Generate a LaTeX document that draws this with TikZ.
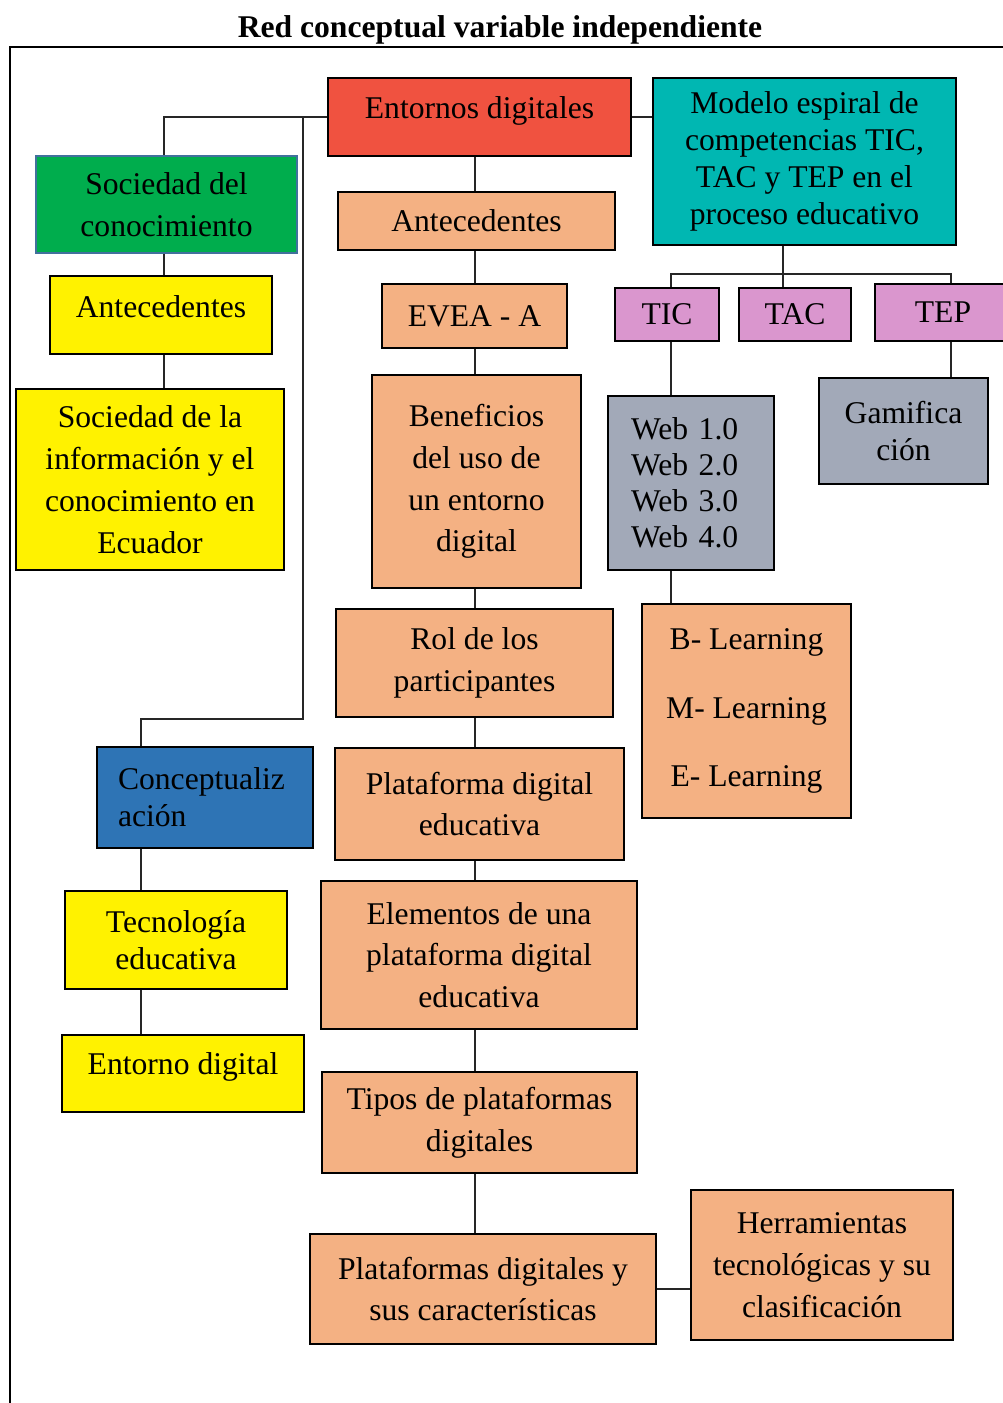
\documentclass[tikz,border=0pt]{standalone}
\usepackage{fontspec}
\setmainfont{Liberation Serif}
\usepackage{xcolor}
\usetikzlibrary{calc}

\definecolor{redbox}{RGB}{240,82,64}
\definecolor{tealbox}{RGB}{0,183,178}
\definecolor{greenbox}{RGB}{0,173,77}
\definecolor{greenborder}{RGB}{65,113,156}
\definecolor{peach}{RGB}{244,177,131}
\definecolor{violetbox}{RGB}{218,150,206}
\definecolor{slatebox}{RGB}{162,169,184}
\definecolor{bluebox}{RGB}{46,116,181}

\tikzset{
  box/.style={draw=black, line width=1.5pt, inner sep=2pt, align=center, font=\fontsize{18}{23.8}\selectfont},
  tight/.style={font=\fontsize{18}{21}\selectfont},
  lift/.style={text depth=#1},
  link/.style={black!85, line width=0.6pt},
}

\begin{document}
\begin{tikzpicture}[x=0.02cm, y=-0.02cm]
  \useasboundingbox (0,0) rectangle (1003,1403);
  \node[font=\fontsize{18}{22}\selectfont\bfseries, anchor=base] (title) at (500,37) {Red conceptual variable independiente};
  \draw[line width=1.2pt] (10,1403) -- (10,47) -- (1003,47);

  % top row
  \node[box, fill=redbox, minimum width=6.06cm, minimum height=1.56cm, lift=11pt] (ent) at (479.5,117) {Entornos digitales};
  \node[box, tight, fill=tealbox, minimum width=6.06cm, minimum height=3.34cm] (mod) at (804.5,161.5) {Modelo espiral de\\competencias TIC,\\TAC y TEP en el\\proceso educativo};

  % left column
  \node[box, fill=greenbox, draw=greenborder, line width=1pt, minimum width=5.22cm, minimum height=1.94cm] (soc) at (166.5,204.5) {Sociedad del\\conocimiento};
  \node[box, fill=yellow, minimum width=4.44cm, minimum height=1.56cm, lift=10pt] (ant1) at (161,315) {Antecedentes};
  \node[box, fill=yellow, minimum width=5.36cm, minimum height=3.62cm] (inf) at (150,479.5) {Sociedad de la\\información y el\\conocimiento en\\Ecuador};
  \node[box, tight, fill=bluebox, minimum width=4.32cm, minimum height=2.02cm, text width=3.48cm, align=left] (con) at (205,797.5) {Conceptualiz\\ación};
  \node[box, tight, fill=yellow, minimum width=4.44cm, minimum height=1.96cm] (tec) at (176,940) {Tecnología\\educativa};
  \node[box, fill=yellow, minimum width=4.84cm, minimum height=1.54cm, lift=11pt] (edg) at (183,1073.5) {Entorno digital};

  % center column
  \node[box, fill=peach, minimum width=5.54cm, minimum height=1.16cm] (ant2) at (476.5,221) {Antecedentes};
  \node[box, fill=peach, minimum width=3.70cm, minimum height=1.28cm] (evea) at (474.5,316) {EVEA - A};
  \node[box, fill=peach, minimum width=4.18cm, minimum height=4.26cm] (ben) at (476.5,481.5) {Beneficios\\del uso de\\un entorno\\digital};
  \node[box, fill=peach, minimum width=5.54cm, minimum height=2.16cm] (rol) at (474.5,663) {Rol de los\\participantes};
  \node[box, fill=peach, minimum width=5.78cm, minimum height=2.24cm] (pde) at (479.5,804) {Plataforma digital\\educativa};
  \node[box, fill=peach, minimum width=6.32cm, minimum height=2.96cm] (ele) at (479,955) {Elementos de una\\plataforma digital\\educativa};
  \node[box, fill=peach, minimum width=6.30cm, minimum height=2.02cm] (tip) at (479.5,1122.5) {Tipos de plataformas\\digitales};
  \node[box, fill=peach, minimum width=6.92cm, minimum height=2.20cm] (pla) at (483,1289) {Plataformas digitales y\\sus características};
  \node[box, fill=peach, minimum width=5.24cm, minimum height=3.00cm] (her) at (822,1265) {Herramientas\\tecnológicas y su\\clasificación};

  % right column
  \node[box, fill=violetbox, minimum width=2.08cm, minimum height=1.06cm] (tic) at (667,314.5) {TIC};
  \node[box, fill=violetbox, minimum width=2.24cm, minimum height=1.06cm] (tac) at (795,314.5) {TAC};
  \node[box, fill=violetbox, minimum width=2.72cm, minimum height=1.14cm] (tep) at (943,312.5) {TEP};
  \node[box, fill=slatebox, font=\fontsize{18}{20.4}\selectfont, minimum width=3.32cm, minimum height=3.48cm, text width=2.4cm, align=left] (web) at (691,483) {Web 1.0\\Web 2.0\\Web 3.0\\Web 4.0};
  \node[box, fill=peach, minimum width=4.18cm, minimum height=4.28cm] (lrn) at (746.5,711) {B- Learning\\[15pt]M- Learning\\[15pt]E- Learning};
  \node[box, tight, fill=slatebox, minimum width=3.38cm, minimum height=2.12cm] (gam) at (903.5,431) {Gamifica\\ción};

  % spines
  \coordinate (socspine) at (164,0);
  \coordinate (midspine) at (303,0);
  \coordinate (bend) at (303,719);
  \coordinate (conspine) at (141,0);
  \coordinate (cspine) at (475,0);
  \coordinate (ticspine) at (671,0);
  \coordinate (tacspine) at (783,0);
  \coordinate (tepspine) at (951,0);
  \coordinate (bar) at (0,274);

  % connectors, left
  \draw[link] (ent.west) -| (soc.north -| socspine);
  \draw[link] (ent.west -| midspine) -- (bend) -| (con.north -| conspine);
  \draw[link] (soc.south -| socspine) -- (ant1.north -| socspine);
  \draw[link] (ant1.south -| socspine) -- (inf.north -| socspine);
  \draw[link] (con.south -| conspine) -- (tec.north -| conspine);
  \draw[link] (tec.south -| conspine) -- (edg.north -| conspine);

  % connectors, center
  \draw[link] (ent.south -| cspine) -- (ant2.north -| cspine);
  \draw[link] (ant2.south -| cspine) -- (evea.north -| cspine);
  \draw[link] (evea.south -| cspine) -- (ben.north -| cspine);
  \draw[link] (ben.south -| cspine) -- (rol.north -| cspine);
  \draw[link] (rol.south -| cspine) -- (pde.north -| cspine);
  \draw[link] (pde.south -| cspine) -- (ele.north -| cspine);
  \draw[link] (ele.south -| cspine) -- (tip.north -| cspine);
  \draw[link] (tip.south -| cspine) -- (pla.north -| cspine);
  \draw[link, line width=1.2pt] (pla.east) -- (pla.east -| her.west);

  % connectors, right
  \draw[link] (ent.east) -- (ent.east -| mod.west);
  \draw[link] (mod.south -| tacspine) -- (tac.north -| tacspine);
  \draw[link] (tic.north -| ticspine) -- (bar -| ticspine) -- (bar -| tepspine) -- (tep.north -| tepspine);
  \draw[link] (tic.south -| ticspine) -- (web.north -| ticspine);
  \draw[link] (web.south -| ticspine) -- (lrn.north -| ticspine);
  \draw[link] (tep.south -| tepspine) -- (gam.north -| tepspine);
\end{tikzpicture}
\end{document}
